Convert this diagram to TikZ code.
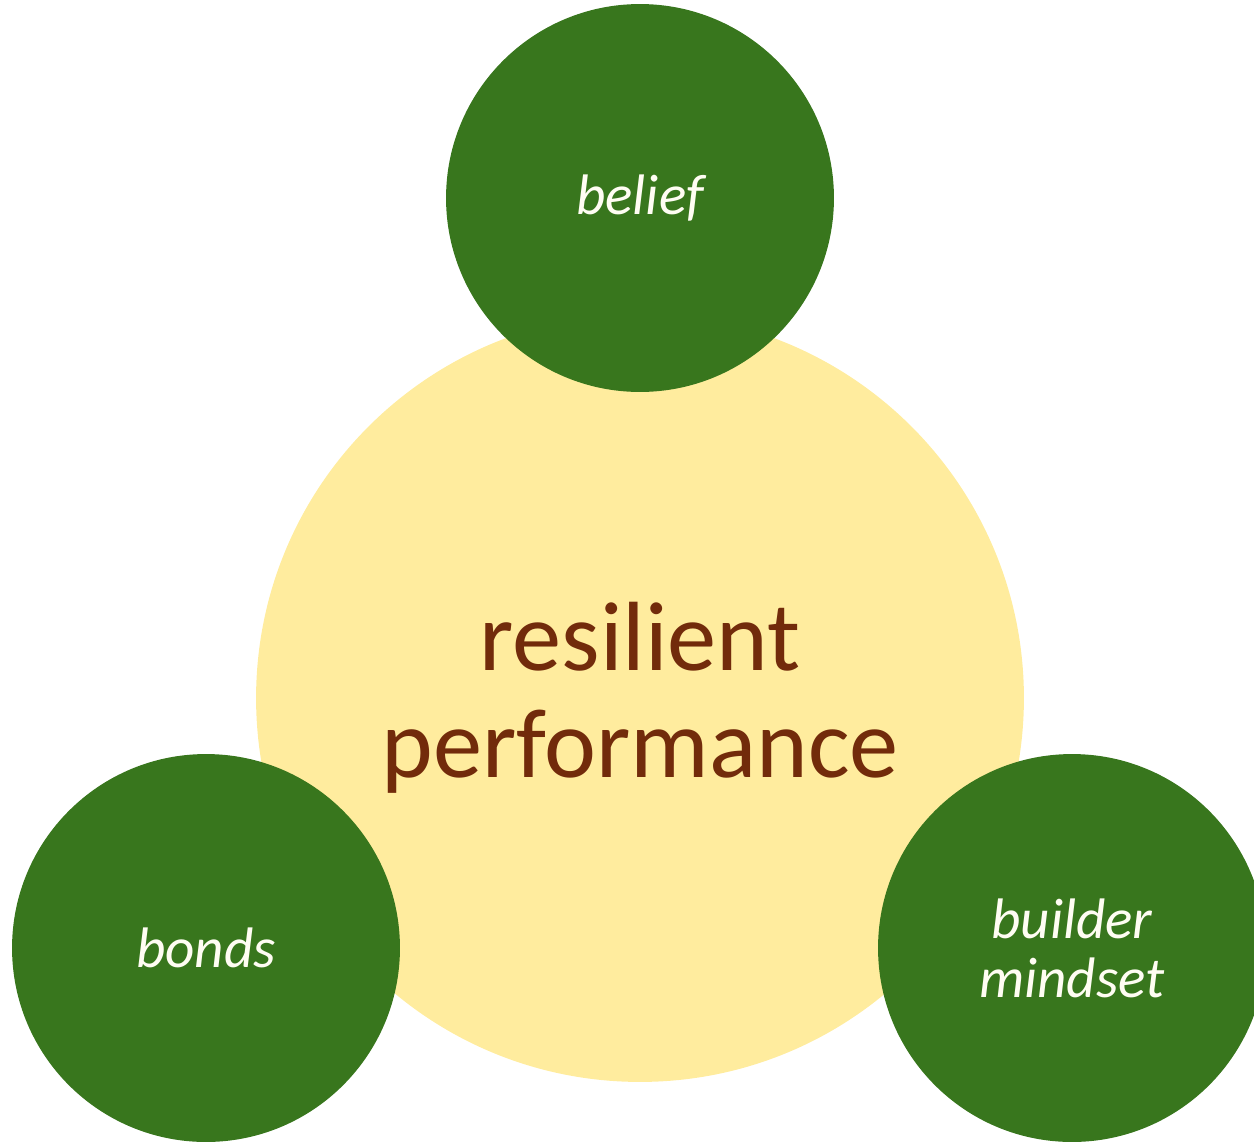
\documentclass[tikz,border=0pt]{standalone}
\usepackage{fontspec}
\setmainfont{Carlito}
\usepackage{tikz}
\usetikzlibrary{positioning}
\definecolor{sunyellow}{HTML}{FFEC9E}
\definecolor{leafgreen}{HTML}{38761D}
\definecolor{rust}{HTML}{722B0B}
\definecolor{cream}{HTML}{FFFDF3}

\begin{document}
\begin{tikzpicture}[
  x=0.02cm, y=-0.02cm,
  core/.style={circle, fill=sunyellow, minimum size=15.36cm, inner sep=0pt,
               text=rust, align=center, font=\fontsize{56}{61}\selectfont},
  pillar/.style={circle, fill=leafgreen, minimum size=7.76cm, inner sep=0pt,
                 text=cream, align=center, font=\fontsize{32.5}{33.5}\selectfont\itshape}
]
  \useasboundingbox (0,0) rectangle (1254,1143);

  \node[core] (perf) at (640,698) {resilient\\performance};

  \node[pillar] (belief) at (640,198) {belief};
  \node[pillar] (bonds) at (206,948) {bonds};
  \node[pillar] (builder) at (1072,948) {builder\\mindset};
\end{tikzpicture}
\end{document}
